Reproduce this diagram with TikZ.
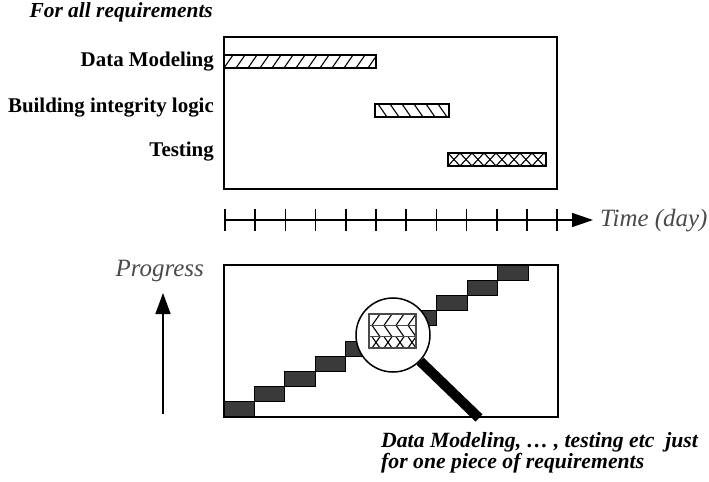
\documentclass[tikz,border=0pt]{standalone}
\usepackage{fontspec}
\setmainfont{Liberation Serif}
\usepackage{tikz}
\usetikzlibrary{arrows.meta,positioning}
\definecolor{StepGrey}{HTML}{3A3A3A}
\definecolor{AxisGrey}{HTML}{4A4A4A}

\tikzset{
  tasklbl/.style={font=\fontsize{21}{24}\selectfont\bfseries,anchor=base east,inner sep=0pt},
  notelbl/.style={font=\fontsize{21.8}{24}\selectfont\bfseries\itshape,anchor=base west,inner sep=0pt},
  axislbl/.style={font=\fontsize{25}{28}\selectfont\itshape,text=AxisGrey,inner sep=0pt},
  frame/.style={draw,line width=1.5bp},
  axisline/.style={draw,line width=1.5bp},
  taskbar/.style={draw,line width=1.3bp},
  hatchline/.style={line width=1.1bp},
  stepbox/.style={draw,fill=StepGrey,line width=1bp}
}

\begin{document}
\begin{tikzpicture}[x=1bp,y=-1bp]
  \useasboundingbox (0,0) rectangle (709,482);

  % upper chart: all requirements
  \node[tasklbl,font=\fontsize{21.5}{24}\selectfont\bfseries\itshape] (allReq) at (213,18) {For all requirements};
  \node[tasklbl] (dataLbl) at (214,67) {Data Modeling};
  \node[tasklbl] (logicLbl) at (214,113) {Building integrity logic};
  \node[tasklbl] (testLbl) at (214,157) {Testing};
  \draw[frame] (224,37) rectangle (557,189);

  \begin{scope}
    \clip (224,55) rectangle (376,68);
    \foreach \x in {212,224,...,380}
      \draw[hatchline] (\x,68) -- ++(9,-13);
  \end{scope}
  \draw[taskbar] (224,55) rectangle (376,68);
  \begin{scope}
    \clip (375,104) rectangle (449,117);
    \foreach \x in {366,378,...,452}
      \draw[hatchline] (\x,104) -- ++(9,13);
  \end{scope}
  \draw[taskbar] (375,104) rectangle (449,117);
  \begin{scope}
    \clip (448,153) rectangle (546,166);
    \foreach \x in {436,448,...,552}
      \draw[hatchline] (\x,166) -- ++(12,-13) (\x,153) -- ++(12,13);
  \end{scope}
  \draw[taskbar] (448,153) rectangle (546,166);

  % time axis
  \coordinate (timeStart) at (225,220);
  \coordinate (timeEnd) at (593,220);
  \draw[axisline,-{Triangle[length=21bp,width=14bp]}] (timeStart) -- (timeEnd);
  \foreach \i in {0,...,11}
    \draw[axisline] ({225+30.2*\i},209) -- ++(0,22);
  \node[axislbl,anchor=base west] (timeLbl) at (600,227) {Time (day)};

  % lower chart: progress per piece
  \node[axislbl,anchor=base east] (progLbl) at (204,277) {Progress};
  \coordinate (progBase) at (163,414);
  \coordinate (progTip) at (163,293);
  \draw[axisline,-{Triangle[length=21bp,width=15bp]}] (progBase) -- (progTip);
  \foreach \i in {0,...,9}
    \draw[stepbox] ({224+30.4*\i},{417-15.2*\i}) rectangle +(30.4,-15.2);
  \draw[frame] (224,265) rectangle (558,417);

  % magnifier
  \coordinate (handleEnd) at (479,418);
  \node[circle,draw,line width=1.5bp,fill=white,minimum size=74bp,inner sep=0pt] (lens) at (393,335) {};
  \draw[line width=10bp] (lens.-44) -- (handleEnd);
  \begin{scope}
    \clip (369,314) rectangle (416,348);
    \foreach \x in {360,372,...,420}
      \draw[hatchline] (\x,325.3) -- ++(8,-11.3)
        (\x,325.3) -- ++(8,11.4)
        (\x,348) -- ++(8,-11.3) (\x,336.7) -- ++(8,11.3);
  \end{scope}
  \draw[AxisGrey,line width=1.2bp] (369,314) rectangle (416,348)
    (369,325.3) -- (416,325.3) (369,336.7) -- (416,336.7);

  \node[notelbl] (noteTop) at (381,447) {Data Modeling, \dots\ , testing etc\ \ just};
  \node[notelbl] (noteBot) at (381,468) {for one piece of requirements};
\end{tikzpicture}
\end{document}
